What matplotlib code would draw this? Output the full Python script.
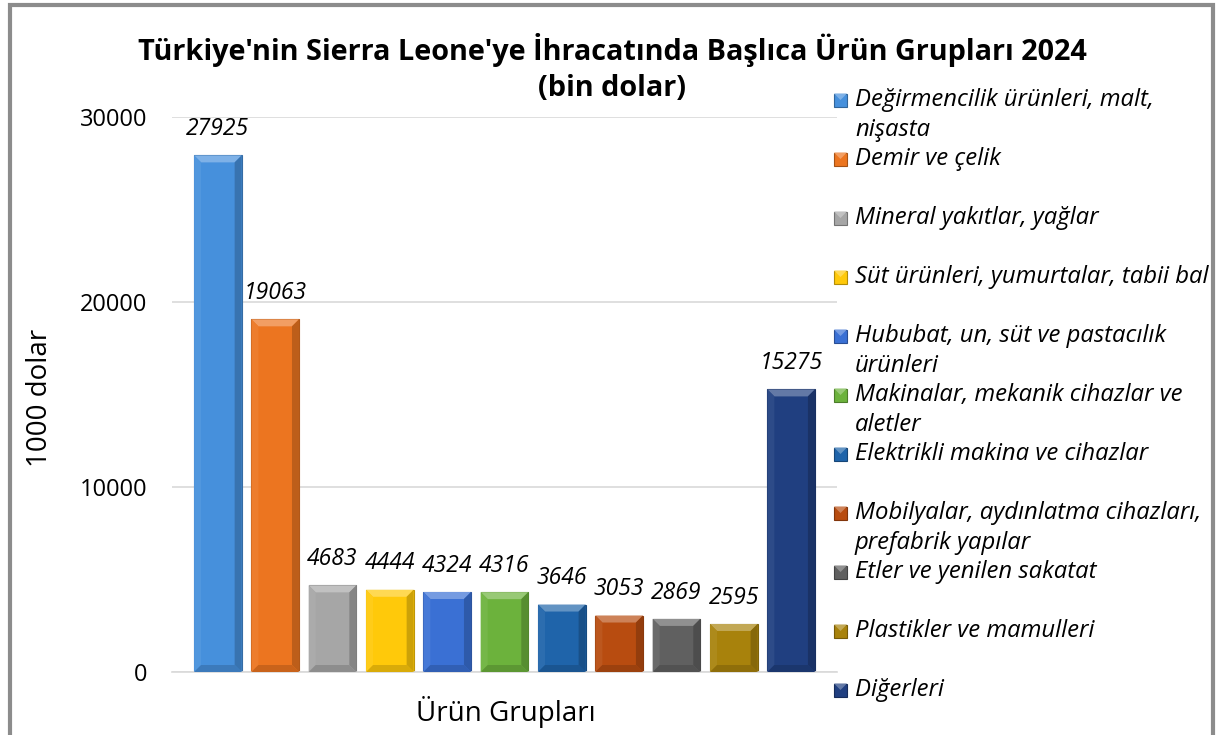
import matplotlib
matplotlib.use("Agg")
import matplotlib.pyplot as plt
from matplotlib.patches import Polygon, Rectangle
from matplotlib import colors as mcolors

plt.rcParams['font.family'] = ['Open Sans', 'DejaVu Sans']

# ---- data ----
categories = [
    "Değirmencilik ürünleri, malt,\nnişasta",
    "Demir ve çelik",
    "Mineral yakıtlar, yağlar",
    "Süt ürünleri, yumurtalar, tabii bal",
    "Hububat, un, süt ve pastacılık\nürünleri",
    "Makinalar, mekanik cihazlar ve\naletler",
    "Elektrikli makina ve cihazlar",
    "Mobilyalar, aydınlatma cihazları,\nprefabrik yapılar",
    "Etler ve yenilen sakatat",
    "Plastikler ve mamulleri",
    "Diğerleri",
]
values = [27925, 19063, 4683, 4444, 4324, 4316, 3646, 3053, 2869, 2595, 15275]
bar_colors = ["#4690DC", "#EC7520", "#A6A6A6", "#FFC90A", "#3A70D4", "#6CB23C",
              "#1F64AA", "#B84C10", "#606060", "#A8820C", "#203F80"]
yticks = [0, 10000, 20000, 30000]
title = "Türkiye'nin Sierra Leone'ye İhracatında Başlıca Ürün Grupları 2024\n(bin dolar)"
xlabel = "Ürün Grupları"
ylabel = "1000 dolar"

W, H = 1223, 735
fig = plt.figure(figsize=(W / 100, H / 100), dpi=100)
ax = fig.add_axes([172 / W, 1 - 672 / H, (837 - 172) / W, (672 - 117) / H])

def shade(c, f):
    r, g, b = mcolors.to_rgb(c)
    if f >= 0:
        return (r + (1 - r) * f, g + (1 - g) * f, b + (1 - b) * f)
    return (r * (1 + f), g * (1 + f), b * (1 + f))

bw = 0.83
xs = list(range(len(values)))
bars = ax.bar(xs, values, width=bw, color=bar_colors, zorder=2,
              edgecolor=[shade(c, -0.25) for c in bar_colors], linewidth=0.8)

ax.set_xlim(-0.8, len(values) - 0.2)
ax.set_ylim(0, 30000)

# bevel effect
px_x = (len(values) - 0.2 + 0.8) / (837 - 172)
px_y = 30000 / (672 - 117)
bx, by = 7 * px_x, 7 * px_y
for b, c in zip(bars, bar_colors):
    x0, x1 = b.get_x(), b.get_x() + b.get_width()
    y1 = b.get_height()
    ax.add_patch(Polygon([(x0, y1), (x1, y1), (x1 - bx, y1 - by), (x0 + bx, y1 - by)],
                         closed=True, color=shade(c, 0.3), zorder=3, lw=0))
    ax.add_patch(Polygon([(x0, y1), (x0 + bx, y1 - by), (x0 + bx, by), (x0, 0)],
                         closed=True, color=shade(c, 0.06), zorder=3, lw=0))
    ax.add_patch(Polygon([(x1, y1), (x1 - bx, y1 - by), (x1 - bx, by), (x1, 0)],
                         closed=True, color=shade(c, -0.2), zorder=3, lw=0))
    ax.add_patch(Polygon([(x0, 0), (x1, 0), (x1 - bx, by), (x0 + bx, by)],
                         closed=True, color=shade(c, -0.15), zorder=3, lw=0))

for x, v in zip(xs, values):
    ax.annotate(str(v), (x, v), xytext=(0, 19), textcoords="offset points",
                ha="center", va="center", fontsize=16.5, style="italic", color="#000000")

ax.set_yticks(yticks)
ax.set_yticklabels([str(t) for t in yticks], fontsize=17)
ax.set_xticks([])
ax.tick_params(axis="y", length=0, pad=18)
ax.grid(axis="y", color="#D9D9D9", linewidth=1.2, zorder=0)
for s in ["left", "right", "top"]:
    ax.spines[s].set_visible(False)
ax.spines["bottom"].set_color("#D9D9D9")
ax.spines["bottom"].set_linewidth(1.2)

fig.text(612 / W, 1 - 50 / H, title.split("\n")[0], ha="center", va="center",
         fontsize=20.8, fontweight="bold")
fig.text(612 / W, 1 - 88 / H, title.split("\n")[1], ha="center", va="center",
         fontsize=20.8, fontweight="bold")
fig.text(506 / W, 1 - 712 / H, xlabel, ha="center", va="center", fontsize=20)
fig.text(40 / W, 1 - 398 / H, ylabel, ha="center", va="center", fontsize=20, rotation=90)

# legend
for i, (lab, c) in enumerate(zip(categories, bar_colors)):
    yc = 100 + i * 59
    sq = 13
    fig.patches.append(Rectangle((834 / W, 1 - (yc + sq / 2) / H), sq / W, sq / H,
                                 transform=fig.transFigure, facecolor=c,
                                 edgecolor=shade(c, -0.3), lw=0.8))
    fig.patches.append(Polygon([(834 / W, 1 - (yc - sq / 2) / H), ((834 + sq) / W, 1 - (yc - sq / 2) / H),
                                ((834 + sq / 2) / W, 1 - yc / H)],
                               closed=True, transform=fig.transFigure,
                               facecolor=shade(c, 0.3), lw=0))
    for k, line in enumerate(lab.split("\n")):
        fig.text(855 / W, 1 - (yc + k * 30) / H, line, ha="left", va="center",
                 fontsize=17.2, style="italic")

# outer border
fig.patches.append(Rectangle((10 / W, -0.05), (1213 - 10) / W, 1.05 - 5 / H,
                             transform=fig.transFigure, fill=False,
                             edgecolor="#8C8C8C", lw=3))

fig.savefig("out.png", dpi=100, facecolor="white")
